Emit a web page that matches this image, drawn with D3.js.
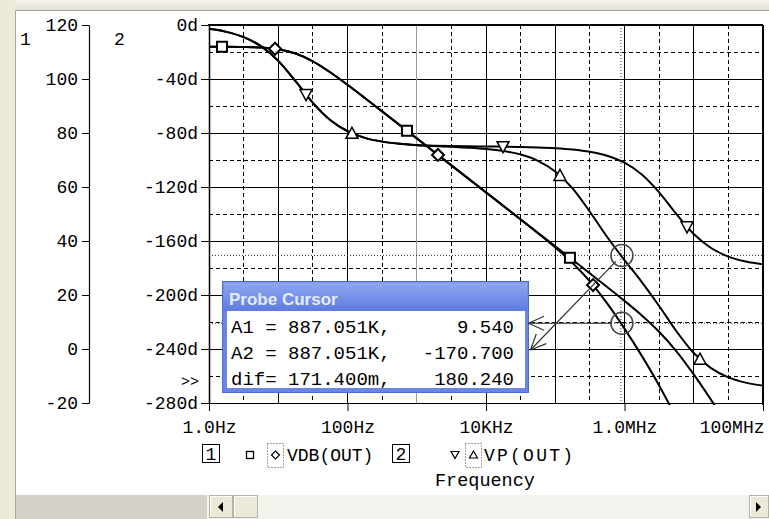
<!DOCTYPE html>
<html><head><meta charset="utf-8">
<script src="https://cdn.jsdelivr.net/npm/d3@7"></script>
<style>body{margin:0;background:#fff;overflow:hidden} svg{display:block}</style>
</head><body><svg id="c" width="769" height="519"></svg>
<script>
// ---------- data ----------
const freq = [1,1.778,3.162,5.623,10,17.78,31.62,56.23,100,177.8,316.2,562.3,1000,1778,3162,5623,10000,17780,31620,56230,100000,177800,316200,562300,1000000,1778000,3162000,5623000,10000000,17780000,31620000,56230000,100000000];
const vdbRun1 = [111.99,111.97,111.89,111.67,111.03,109.47,106.56,102.50,97.85,92.97,88.00,83.02,78.02,73.02,68.02,63.02,58.02,53.02,48.02,43.02,38.02,33.01,28.00,22.96,17.83,12.44,6.40,-0.84,-9.41,-18.83,-28.63,-38.57,-48.55];
const vdbRun2 = [111.99,111.97,111.89,111.67,111.03,109.47,106.56,102.50,97.85,92.97,88.00,83.02,78.02,73.02,68.02,63.02,58.02,53.01,47.98,42.89,37.62,31.85,25.07,16.89,7.56,-2.54,-13.49,-25.70,-39.26,-53.67,-68.47,-83.41,-98.39];
const vpRun1 = [-2.86,-5.08,-8.98,-15.70,-26.57,-41.63,-57.69,-70.43,-78.69,-83.58,-86.38,-87.96,-88.86,-89.38,-89.68,-89.87,-90.01,-90.16,-90.35,-90.67,-91.21,-92.16,-93.84,-96.81,-102.01,-110.72,-123.93,-140.11,-154.83,-165.19,-171.55,-175.22,-177.31];
const vpRun2 = [-2.86,-5.08,-8.98,-15.70,-26.57,-41.63,-57.69,-70.43,-78.69,-83.58,-86.38,-87.96,-89.04,-89.70,-90.24,-90.87,-91.79,-93.32,-95.96,-100.58,-108.46,-121.07,-138.32,-157.01,-174.16,-190.46,-208.12,-226.83,-242.99,-254.15,-260.97,-264.89,-267.13];

const markerFreqVdb1 = [1.54, 723, 163000];
const markerFreqVdb2 = [8.98, 2028, 351000];
const markerFreqVp1 = [25.2, 17600, 8.0e6];
const markerFreqVp2 = [116, 117000, 1.23e7];

const yTicks1 = [120,100,80,60,40,20,0,-20];
const yTicks2 = [0,-40,-80,-120,-160,-200,-240,-280];
const yTickLabels2 = ["0d","-40d","-80d","-120d","-160d","-200d","-240d","-280d"];
const yMinor2 = [-20,-60,-100,-140,-180,-220,-260];
const xTickVals = [1,100,1e4,1e6,1e8];
const xTickLabels = ["1.0Hz","100Hz","10KHz","1.0MHz","100MHz"];
const gridDecades = [10,100,1e3,1e4,1e5,1e6,1e7];
const gridHalf = [3.162,31.62,316.2,3162,31620,316200,3162000,31620000];

const cursorFreq = 887051, cursorA1 = 9.54, cursorA2 = -170.7;
const cursorRows = [["A1 = 887.051K,","9.540"],["A2 = 887.051K,","-170.700"],["dif= 171.400m,","180.240"]];
const legendNames = ["VDB(OUT)","VP(OUT)"];

// ---------- scales ----------
const svg = d3.select("#c");
const x = d3.scaleLog().domain([1,1e8]).range([209,763]);
const y1 = d3.scaleLinear().domain([-20,120]).range([403,25]);
const y2 = d3.scaleLinear().domain([-280,0]).range([403,25]);
const MONO = "'Liberation Mono','DejaVu Sans Mono',monospace";

// ---------- window chrome ----------
svg.append("rect").attr("width",769).attr("height",519).attr("fill","#fff");
const topG = svg.append("defs").append("linearGradient").attr("id","tg").attr("x1",0).attr("y1",0).attr("x2",0).attr("y2",1);
topG.append("stop").attr("offset","0").attr("stop-color","#F4F3EE");
topG.append("stop").attr("offset","1").attr("stop-color","#E3E1D6");
svg.append("rect").attr("x",0).attr("y",0).attr("width",769).attr("height",10).attr("fill","url(#tg)");
svg.append("rect").attr("x",0).attr("y",0).attr("width",15).attr("height",519).attr("fill","#ECE9D8");
svg.append("line").attr("x1",15.5).attr("x2",769).attr("y1",10.5).attr("y2",10.5).attr("stroke","#A7A597");
svg.append("line").attr("x1",15.5).attr("x2",15.5).attr("y1",10.5).attr("y2",519).attr("stroke","#A7A597");
// scrollbar
svg.append("rect").attr("x",16).attr("y",495).attr("width",191).attr("height",24).attr("fill","#D4D0C8");
svg.append("rect").attr("x",207).attr("y",495).attr("width",562).attr("height",24).attr("fill","#F3F2EC");
function button(x0,w){
  svg.append("rect").attr("x",x0+0.5).attr("y",495.5).attr("width",w-1).attr("height",22).attr("fill","#ECE9D8").attr("stroke","#B5B2A6");
  svg.append("line").attr("x1",x0+1.5).attr("x2",x0+w-2).attr("y1",496.5).attr("y2",496.5).attr("stroke","#fff");
  svg.append("line").attr("x1",x0+1.5).attr("x2",x0+1.5).attr("y1",496.5).attr("y2",516).attr("stroke","#fff");
}
button(209,24); button(233,25); button(749,20);
svg.append("path").attr("d","M218,507 L223,502 L223,512 Z").attr("fill","#000");
svg.append("path").attr("d","M761,507 L756,502 L756,512 Z").attr("fill","#000");

// ---------- grid ----------
const grid = svg.append("g").attr("shape-rendering","crispEdges");
yTicks2.slice(1,-1).forEach(v=>grid.append("line").attr("x1",209).attr("x2",763).attr("y1",y2(v)).attr("y2",y2(v)).attr("stroke","#000"));
yMinor2.forEach(v=>grid.append("line").attr("x1",209).attr("x2",763).attr("y1",y2(v)).attr("y2",y2(v)).attr("stroke","#000").attr("stroke-dasharray","4,3"));
gridDecades.forEach(f=>grid.append("line").attr("x1",x(f)).attr("x2",x(f)).attr("y1",25).attr("y2",403).attr("stroke", f===1e3?"#9a9a9a":"#000"));
gridHalf.forEach(f=>grid.append("line").attr("x1",x(f)).attr("x2",x(f)).attr("y1",25).attr("y2",403).attr("stroke","#000").attr("stroke-dasharray","4,3"));
// frame
grid.append("line").attr("x1",208).attr("x2",763).attr("y1",25).attr("y2",25).attr("stroke","#000").attr("stroke-width",2);
grid.append("line").attr("x1",763).attr("x2",763).attr("y1",25).attr("y2",405).attr("stroke","#000").attr("stroke-width",1.5);

// ---------- axes ----------
function styleAxis(g){
  g.attr("font-family",MONO).attr("font-size",18).attr("color","#000");
  g.selectAll(".tick line").attr("stroke","#000");
}
const ax1 = svg.append("g").attr("transform","translate(89,0)")
  .call(d3.axisLeft(y1).tickValues(yTicks1).tickSize(7).tickSizeOuter(0).tickPadding(4).tickFormat(d=>String(d)));
styleAxis(ax1);
const ax2 = svg.append("g").attr("transform","translate(209,0)")
  .call(d3.axisLeft(y2).tickValues(yTicks2).tickSize(8).tickSizeOuter(0).tickPadding(3).tickFormat((d,i)=>yTickLabels2[i]));
styleAxis(ax2);
const axx = svg.append("g").attr("transform","translate(0,403)")
  .call(d3.axisBottom(x).tickValues(xTickVals).tickSize(8).tickSizeOuter(0).tickFormat((d,i)=>xTickLabels[i]));
styleAxis(axx);
axx.selectAll(".tick text").attr("y",30).attr("dy",0);
axx.selectAll(".tick text").filter((d,i)=>i===xTickVals.length-1).attr("text-anchor","end").attr("x",1);
ax1.selectAll(".domain").attr("stroke-width",1.2);
ax2.selectAll(".domain").attr("stroke-width",1.5);

svg.append("text").attr("x",20).attr("y",45).attr("font-family",MONO).attr("font-size",18).text("1");
svg.append("text").attr("x",114).attr("y",45).attr("font-family",MONO).attr("font-size",18).text("2");
svg.append("text").attr("x",181).attr("y",386).attr("font-family",MONO).attr("font-size",15).text(">>");

// ---------- cursor lines ----------
const cx = x(cursorFreq), cyA1 = y1(cursorA1), cyA2 = y2(cursorA2);
const cur = svg.append("g").attr("stroke","#333").attr("stroke-dasharray","1,2");
cur.append("line").attr("x1",cx).attr("x2",cx).attr("y1",25).attr("y2",403);
cur.append("line").attr("x1",209).attr("x2",763).attr("y1",cyA1).attr("y2",cyA1);
cur.append("line").attr("x1",209).attr("x2",763).attr("y1",cyA2).attr("y2",cyA2);

// ---------- curves ----------
svg.append("clipPath").attr("id","pc").append("rect").attr("x",208).attr("y",24).attr("width",556).attr("height",381);
const plot = svg.append("g").attr("clip-path","url(#pc)");
function curve(vals, ys){
  const ln = d3.line().x((d,i)=>x(freq[i])).y(d=>ys(d)).curve(d3.curveMonotoneX);
  return plot.append("path").attr("d",ln(vals)).attr("fill","none").attr("stroke","#000").attr("stroke-width",2);
}
const pV1 = curve(vdbRun1,y1), pV2 = curve(vdbRun2,y1), pP1 = curve(vpRun1,y2), pP2 = curve(vpRun2,y2);

function yOnPath(node, xt){
  let lo=0, hi=node.getTotalLength();
  for(let k=0;k<40;k++){const m=(lo+hi)/2; if(node.getPointAtLength(m).x<xt) lo=m; else hi=m;}
  return node.getPointAtLength(lo).y;
}
const shapes = {
  sq:"M-5,-5 L5,-5 L5,5 L-5,5 Z",
  di:"M0,-6 L6,0 L0,6 L-6,0 Z",
  dn:"M-6,-5 L6,-5 L0,6 Z",
  up:"M0,-6 L6,5 L-6,5 Z"
};
function markers(path, fs, shape, sw){
  fs.forEach(f=>{
    const px = x(f), py = yOnPath(path.node(), px);
    svg.append("path").attr("d",shapes[shape]).attr("transform",`translate(${px},${py})`)
      .attr("fill","#fff").attr("stroke","#000").attr("stroke-width",sw);
  });
}
markers(pV1, markerFreqVdb1, "sq", 2);
markers(pV2, markerFreqVdb2, "di", 2);
markers(pP1, markerFreqVp1, "dn", 1.5);
markers(pP2, markerFreqVp2, "up", 1.5);

// cursor circles
[cyA1, cyA2].forEach(cy=>svg.append("circle").attr("cx",cx+1).attr("cy",cy).attr("r",11).attr("fill","none").attr("stroke","#444").attr("stroke-width",1.5));

// ---------- probe cursor box ----------
const bx=222.5, by=281.5, bw=306, bh=111;
const bg = svg.append("defs").append("linearGradient").attr("id","bt").attr("x1",0).attr("y1",0).attr("x2",0).attr("y2",1);
bg.append("stop").attr("offset","0").attr("stop-color","#90A8F0");
bg.append("stop").attr("offset","1").attr("stop-color","#5C7BE0");
svg.append("rect").attr("x",bx).attr("y",by).attr("width",bw).attr("height",bh).attr("fill","#6A86E2").attr("stroke","#4D69D2");
svg.append("rect").attr("x",bx+1).attr("y",by+1).attr("width",bw-2).attr("height",29).attr("fill","url(#bt)");
svg.append("rect").attr("x",227).attr("y",311).attr("width",298).attr("height",77).attr("fill","#fff");
svg.append("text").attr("x",229).attr("y",305).attr("font-family","'Liberation Sans',Arial,sans-serif").attr("font-weight","bold").attr("font-size",17).attr("fill","#E4EBFF").text("Probe Cursor");
cursorRows.forEach((r,i)=>{
  const yb = 333 + i*26;
  svg.append("text").attr("x",231).attr("y",yb).attr("font-family",MONO).attr("font-size",19).text(r[0]);
  svg.append("text").attr("x",514).attr("y",yb).attr("text-anchor","end").attr("font-family",MONO).attr("font-size",19).text(r[1]);
});

// arrows from cursor points to the box
function arrow(x0,y0,x1,y1){
  const g = svg.append("g").attr("stroke","#333").attr("stroke-width",1.2).attr("fill","none");
  g.append("line").attr("x1",x0).attr("y1",y0).attr("x2",x1).attr("y2",y1);
  const a = Math.atan2(y0-y1,x0-x1), L=17, s=0.42;
  g.append("line").attr("x1",x1).attr("y1",y1).attr("x2",x1+L*Math.cos(a+s)).attr("y2",y1+L*Math.sin(a+s));
  g.append("line").attr("x1",x1).attr("y1",y1).attr("x2",x1+L*Math.cos(a-s)).attr("y2",y1+L*Math.sin(a-s));
}
arrow(cx-10, cyA1, bx+bw, cyA1);
arrow(cx-5, cyA2+6, bx+bw+2, 350);

// ---------- legend ----------
const lg = svg.append("g").attr("font-family",MONO).attr("font-size",18);
lg.append("rect").attr("x",202.5).attr("y",444.5).attr("width",17).attr("height",18).attr("fill","none").attr("stroke","#000");
lg.append("text").attr("x",211).attr("y",460).attr("text-anchor","middle").text("1");
lg.append("rect").attr("x",246.5).attr("y",451.5).attr("width",7).attr("height",7).attr("fill","none").attr("stroke","#000").attr("stroke-width",1.3);
lg.append("rect").attr("x",267.5).attr("y",443.5).attr("width",16).attr("height",24).attr("fill","none").attr("stroke","#444").attr("stroke-dasharray","1,2");
lg.append("path").attr("d","M275.5,451 L279.5,455 L275.5,459 L271.5,455 Z").attr("fill","none").attr("stroke","#000").attr("stroke-width",1.2);
lg.append("text").attr("x",287).attr("y",461).text(legendNames[0]);
lg.append("rect").attr("x",392.5).attr("y",444.5).attr("width",17).attr("height",18).attr("fill","none").attr("stroke","#000");
lg.append("text").attr("x",401).attr("y",460).attr("text-anchor","middle").text("2");
lg.append("path").attr("d","M451,451.5 L459,451.5 L455,458.5 Z").attr("fill","none").attr("stroke","#000").attr("stroke-width",1.2);
lg.append("rect").attr("x",465.5).attr("y",443.5).attr("width",16).attr("height",24).attr("fill","none").attr("stroke","#444").attr("stroke-dasharray","1,2");
lg.append("path").attr("d","M473.5,451 L477.5,458 L469.5,458 Z").attr("fill","none").attr("stroke","#000").attr("stroke-width",1.2);
lg.append("text").attr("x",484).attr("y",461).attr("textLength",89).attr("lengthAdjust","spacing").text(legendNames[1]);
svg.append("text").attr("x",435).attr("y",486).attr("font-family",MONO).attr("font-size",18.5).text("Frequency");
</script></body></html>
